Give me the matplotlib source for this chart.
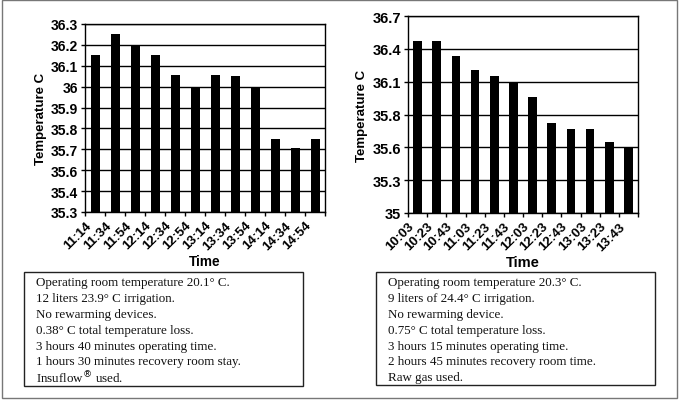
import numpy as np
import matplotlib
matplotlib.use("Agg")
from matplotlib import pyplot as plt
from matplotlib.patches import Rectangle

# case 1 (left)
times_a = ["11:14", "11:34", "11:54", "12:14", "12:34", "12:54",
           "13:14", "13:34", "13:54", "14:14", "14:34", "14:54"]
temps_a = [36.15, 36.25, 36.2, 36.15, 36.055, 36.0,
           36.055, 36.05, 36.0, 35.75, 35.705, 35.75]
yticks_a = [35.3, 35.4, 35.6, 35.7, 35.8, 35.9, 36.0, 36.1, 36.2, 36.3]
ylabels_a = ["35.3", "35.4", "35.6", "35.7", "35.8", "35.9", "36", "36.1", "36.2", "36.3"]
notes_a = ["Operating room temperature 20.1\u00b0 C.",
           "12 liters 23.9\u00b0 C irrigation.",
           "No rewarming devices.",
           "0.38\u00b0 C total temperature loss.",
           "3 hours 40 minutes operating time.",
           "1 hours 30 minutes recovery room stay.",
           "Insuflow$^{\u00ae}$ used."]

# case 2 (right)
times_b = ["10:03", "10:23", "10:43", "11:03", "11:23", "11:43",
           "12:03", "12:23", "12:43", "13:03", "13:23", "13:43"]
temps_b = [36.47, 36.47, 36.33, 36.21, 36.15, 36.09,
           35.96, 35.75, 35.71, 35.71, 35.63, 35.60]
yticks_b = [35.0, 35.3, 35.6, 35.8, 36.1, 36.4, 36.7]
ylabels_b = ["35", "35.3", "35.6", "35.8", "36.1", "36.4", "36.7"]
notes_b = ["Operating room temperature 20.3\u00b0 C.",
           "9 liters of 24.4\u00b0 C irrigation.",
           "No rewarming device.",
           "0.75\u00b0 C total temperature loss.",
           "3 hours 15 minutes operating time.",
           "2 hours 45 minutes recovery room time.",
           "Raw gas used."]

W, H = 681, 402
fig = plt.figure(figsize=(W / 100, H / 100), dpi=100)
sans = "Liberation Sans"
serif = "Liberation Serif"


def px(x0, y0, x1, y1):
    # pixel box (top-left origin) -> figure fraction rect
    return [x0 / W, 1 - y1 / H, (x1 - x0) / W, (y1 - y0) / H]


def bar_panel(rect, times, temps, yticks, ylabels, ysize, time_size):
    ax = fig.add_axes(rect)
    idx = np.arange(len(yticks), dtype=float)
    fwd = lambda v: np.interp(v, yticks, idx, left=-1e3, right=1e3)
    inv = lambda v: np.interp(v, idx, yticks)
    ax.set_yscale("function", functions=(fwd, inv))
    x = np.arange(len(times)) + 0.5
    ax.bar(x, np.array(temps) - yticks[0], bottom=yticks[0], width=0.45,
           color="black", zorder=3)
    ax.set_ylim(yticks[0], yticks[-1])
    ax.set_xlim(0, len(times))
    ax.set_yticks(yticks)
    ax.set_yticklabels(ylabels, fontfamily=sans, fontweight="bold", fontsize=ysize)
    ax.yaxis.set_minor_locator(matplotlib.ticker.NullLocator())
    ax.set_xticks(np.arange(len(times) + 1))
    ax.set_xticklabels(times + [""], rotation=45, ha="right", rotation_mode="anchor",
                       fontfamily=sans, fontweight="bold", fontsize=9.5)
    ax.tick_params(axis="both", direction="out", length=3, width=1, colors="black", pad=2)
    ax.grid(axis="y", color="black", linewidth=1, zorder=1)
    for s in ax.spines.values():
        s.set_linewidth(1)
    ax.set_ylabel("Temperature C", fontfamily=sans, fontweight="bold", fontsize=9.5, labelpad=3)
    ax.set_xlabel("Time", fontfamily=sans, fontweight="bold", fontsize=time_size, labelpad=2)
    return ax


def note_box(x0, y0, x1, y1, tx, notes):
    fig.patches.append(Rectangle((x0 / W, 1 - y1 / H), (x1 - x0) / W, (y1 - y0) / H,
                                 transform=fig.transFigure, fill=False,
                                 edgecolor="#222222", linewidth=1))
    for i, line in enumerate(notes):
        fig.text(tx / W, 1 - (283 + 15.9 * i) / H, line, fontfamily=serif,
                 fontsize=9.4, va="center", ha="left", color="#111111")


bar_panel(px(85, 25, 325, 213), times_a, temps_a, yticks_a, ylabels_a, 10, 9.8)
bar_panel(px(408, 17, 638, 214), times_b, temps_b, yticks_b, ylabels_b, 10.5, 10.5)

note_box(24, 273, 303, 387, 36, notes_a)
note_box(376, 273, 655, 386, 388, notes_b)

# outer frame
fig.patches.append(Rectangle((2 / W, 1 - 399 / H), 675 / W, 398 / H,
                             transform=fig.transFigure, fill=False,
                             edgecolor="#777777", linewidth=1))

fig.savefig("out.png", dpi=100)
